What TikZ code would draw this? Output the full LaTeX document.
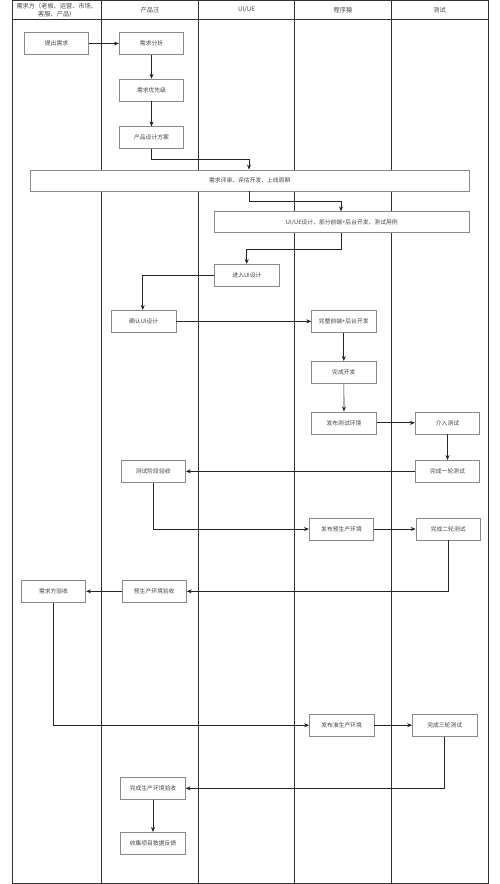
\documentclass[tikz,border=0pt]{standalone}
\usepackage{fontspec}
\setmainfont{Noto Sans CJK SC}
\usetikzlibrary{arrows.meta}
\definecolor{lanec}{HTML}{333333}
\definecolor{boxc}{HTML}{8A8A8A}
\definecolor{txtc}{HTML}{444444}
\tikzset{
  lane/.style={draw=lanec, line width=0.9pt},
  box/.style={draw=boxc, line width=0.6pt, fill=white, minimum height=22pt, minimum width=64.5pt, inner sep=0pt, font=\fontsize{5.8}{7}\selectfont, text=txtc},
  wide/.style={box, minimum height=21pt},
  hdr/.style={font=\fontsize{6.2}{7.4}\selectfont, text=txtc, align=center, inner sep=0pt},
  flow/.style={draw=black!85, line width=0.7pt, -{Stealth[length=5pt,width=4pt]}},
}
\begin{document}
\begin{tikzpicture}[x=1pt,y=-1pt]
\useasboundingbox (0,0) rectangle (500,884);
% swimlanes
\draw[lane] (12,0.5) rectangle (488,883.3);
\draw[lane] (12,19.5) -- (488,19.5);
\foreach \xx in {101.7,198.3,294.7,391.3} \draw[lane] (\xx,0.5) -- (\xx,883.3);
\node[hdr, text width=85pt] (h1) at (56.8,10) {需求方（老板、运营、市场、\\客服、产品）};
\node[hdr] (h2) at (150,10) {产品汪};
\node[hdr] (h3) at (246.5,10) {UI/UE};
\node[hdr] (h4) at (343,10) {程序猿};
\node[hdr] (h5) at (439.6,10) {测试};
% nodes
\node[box] (a1) at (56.5,43.5) {提出需求};
\node[box] (b1) at (151.5,43.5) {需求分析};
\node[box] (b2) at (151.5,90) {需求优先级};
\node[box] (b3) at (151.5,137.7) {产品设计方案};
\node[wide, minimum width=439.3pt] (r1) at (249.7,180.3) {需求评审、评估开发、上线周期};
\node[wide, minimum width=255pt] (r2) at (341.8,222.2) {UI/UE设计、部分前端+后台开发、测试用例};
\node[box] (u1) at (247,275.3) {进入UI设计};
\node[box] (b4) at (143.7,321.3) {确认UI设计};
\node[box] (d1) at (343.8,321.3) {完整前端+后台开发};
\node[box] (d2) at (343.8,372.3) {完成开发};
\node[box] (d3) at (344,422.8) {发布测试环境};
\node[box] (t1) at (447.5,422.8) {介入测试};
\node[box] (t2) at (447.5,471.3) {完成一轮测试};
\node[box] (b5) at (153.2,471.3) {测试阶段验收};
\node[box] (d4) at (341.5,529) {发布预生产环境};
\node[box] (t3) at (448.2,529) {完成二轮测试};
\node[box] (b6) at (154.2,591.3) {预生产环境验收};
\node[box] (a2) at (53.5,591.3) {需求方验收};
\node[box] (d5) at (341.7,725.2) {发布准生产环境};
\node[box] (t4) at (444.7,725.2) {完成三轮测试};
\node[box] (b7) at (153,788.3) {完成生产环境验收};
\node[box] (b8) at (153,843.3) {收集项目数据反馈};
% waypoints
\coordinate (k1) at (249,159.3);
\coordinate (k2) at (249,201.7);
\coordinate (k3) at (341,201.7);
\coordinate (k4) at (341,249);
\coordinate (k5) at (246.7,249);
\coordinate (k6) at (142.7,275.3);
% connectors
\draw[flow] (a1) -- (b1);
\draw[flow] (b1) -- (b2);
\draw[flow] (b2) -- (b3);
\draw[flow] (b3.south) |- (k1) -- (k1 |- r1.north);
\draw[flow] (k2 |- r1.south) -- (k2) -- (k3) -- (k3 |- r2.north);
\draw[flow] (k4 |- r2.south) -- (k4) -- (k5) -- (k5 |- u1.north);
\draw[flow] (u1.west) -- (k6) -- (k6 |- b4.north);
\draw[flow] (b4) -- (d1);
\draw[flow] (d1) -- (d2);
\draw[flow] (d2) -- (d3);
\draw[flow] (d3) -- (t1);
\draw[flow] (t1) -- (t2);
\draw[flow] (t2) -- (b5);
\draw[flow] (b5.south) |- (d4.west);
\draw[flow] (d4) -- (t3);
\draw[flow] (t3.south) |- (b6.east);
\draw[flow] (b6) -- (a2);
\draw[flow] (a2.south) |- (d5.west);
\draw[flow] (d5) -- (t4);
\draw[flow] (t4.south) |- (b7.east);
\draw[flow] (b7) -- (b8);
\end{tikzpicture}
\end{document}
